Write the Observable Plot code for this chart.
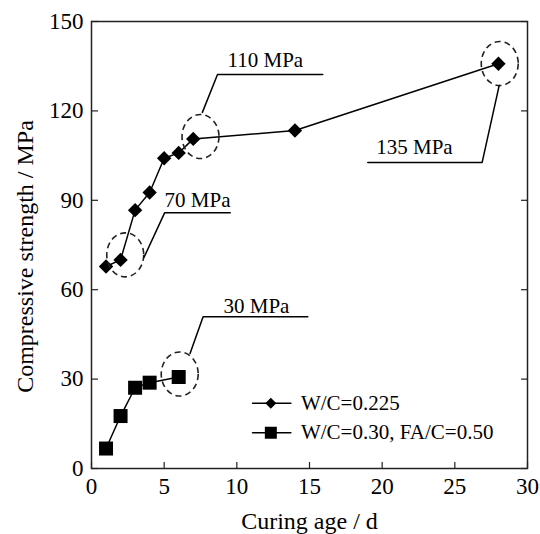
<!DOCTYPE html>
<html><head><meta charset="utf-8">
<script src="https://cdn.jsdelivr.net/npm/d3@7"></script>
<script src="https://cdn.jsdelivr.net/npm/@observablehq/plot@0.6"></script>
<style>
body{margin:0;background:#fff}
#chart svg{display:block;font-family:"Liberation Serif",serif !important}
#chart svg text{font-family:"Liberation Serif",serif !important}
</style>
</head><body><div id="chart"></div>
<script>
// ---- data ----
const days225 = [1, 2, 3, 4, 5, 6, 7, 14, 28];
const strength225 = [67.8, 70.0, 86.7, 92.6, 104.1, 105.9, 110.6, 113.4, 135.8];
const days30 = [1, 2, 3, 4, 6];
const strength30 = [6.7, 17.6, 27.1, 28.8, 30.7];
const seriesNames = ["W/C=0.225", "W/C=0.30, FA/C=0.50"];
const xTicks = [0, 5, 10, 15, 20, 25, 30];
const yTicks = [0, 30, 60, 90, 120, 150];
const xTitle = "Curing age / d";
const yTitle = "Compressive strength / MPa";
// annotations (data units)
const noteLabels = ["70 MPa", "110 MPa", "135 MPa", "30 MPa"];
const noteCircles = [[2.32, 71.7], [7.5, 111.4], [28.09, 135.9], [6.07, 31.7]];
const noteLeaders = [
  [[3.61, 70.8], [5.03, 85.8], [9.55, 85.8]],
  [[7.63, 119.5], [8.67, 132.2], [15.91, 132.2]],
  [[28.05, 128.5], [26.88, 102.7], [19.01, 102.7]],
  [[6.78, 38.6], [7.68, 50.9], [14.88, 50.9]]
];
const noteTextAt = [[5.03, 87.8], [9.36, 134.6], [19.59, 105.5], [9.08, 52.3]];
// legend placement (data units)
const legendLineX = [11.08, 13.72];
const legendSymX = 12.34;
const legendTextX = 14.41;
const legendRowY = [21.9, 12.0];

// ---- build ----
const W = 540, H = 534, mL = 91, mR = 13, mT = 21, mB = 66;
const innerW = W - mL - mR, innerH = H - mT - mB;

const rows225 = days225.map((d, i) => ({day: d, s: strength225[i]}));
const rows30 = days30.map((d, i) => ({day: d, s: strength30[i]}));

const diamond = {draw(ctx, size) { const r = Math.sqrt(size / Math.PI);
  ctx.moveTo(0, -r); ctx.lineTo(r, 0); ctx.lineTo(0, r); ctx.lineTo(-r, 0); ctx.closePath(); }};
const square = {draw(ctx, size) { const r = Math.sqrt(size / Math.PI);
  ctx.moveTo(-r, -r); ctx.lineTo(r, -r); ctx.lineTo(r, r); ctx.lineTo(-r, r); ctx.closePath(); }};
const ellipse = {draw(ctx, size) { const ry = Math.sqrt(size / Math.PI), rx = ry * 0.84, k = 0.5523;
  ctx.moveTo(rx, 0);
  ctx.bezierCurveTo(rx, k * ry, k * rx, ry, 0, ry);
  ctx.bezierCurveTo(-k * rx, ry, -rx, k * ry, -rx, 0);
  ctx.bezierCurveTo(-rx, -k * ry, -k * rx, -ry, 0, -ry);
  ctx.bezierCurveTo(k * rx, -ry, rx, -k * ry, rx, 0);
  ctx.closePath(); }};

const leaderRows = noteLeaders.flatMap((pts, id) => pts.map(([x, y]) => ({id, x, y})));
const circleRows = noteCircles.map(([x, y]) => ({x, y}));
const noteRows = noteTextAt.map(([x, y], i) => ({x, y, t: noteLabels[i]}));
const legendLines = legendRowY.flatMap((y, id) => legendLineX.map(x => ({id, x, y})));

const font = "Liberation Serif";

const chart = Plot.plot({
  width: W, height: H,
  marginLeft: mL, marginRight: mR, marginTop: mT, marginBottom: mB,
  style: {fontFamily: font, color: "black", background: "white"},
  x: {domain: [0, 30]},
  y: {domain: [0, 150]},
  marks: [
    Plot.axisX({ticks: xTicks, tickSize: 0, tickPadding: 9, fontSize: 23, fontFamily: font, label: null, fill: "black"}),
    Plot.axisY({ticks: yTicks, tickSize: 0, tickPadding: 8, fontSize: 23, fontFamily: font, label: null, fill: "black"}),
    Plot.tickX(xTicks, {x: d => d, insetTop: innerH - 6, stroke: "#222", strokeWidth: 1.2}),
    Plot.tickY(yTicks, {y: d => d, insetRight: innerW - 7, stroke: "#222", strokeWidth: 1.2}),
    Plot.tickY(yTicks, {y: d => d, insetLeft: innerW - 6, stroke: "#222", strokeWidth: 1.2}),
    Plot.frame({stroke: "#222", strokeWidth: 1.5}),
    // data
    Plot.line(rows225, {x: "day", y: "s", stroke: "black", strokeWidth: 1.5}),
    Plot.line(rows30, {x: "day", y: "s", stroke: "black", strokeWidth: 1.5}),
    Plot.dot(rows225, {x: "day", y: "s", symbol: diamond, r: 7.2, fill: "black", stroke: "none"}),
    Plot.dot(rows30, {x: "day", y: "s", symbol: square, r: 7, fill: "black", stroke: "none"}),
    // annotations
    Plot.dot(circleRows, {x: "x", y: "y", symbol: ellipse, r: 22, fill: "none", stroke: "#222", strokeWidth: 1.6, strokeDasharray: "6,4"}),
    Plot.line(leaderRows, {x: "x", y: "y", z: "id", stroke: "black", strokeWidth: 1.5, curve: "linear"}),
    Plot.text(noteRows, {x: "x", y: "y", text: "t", textAnchor: "start", lineAnchor: "bottom", fontSize: 21, fontFamily: font, fill: "black"}),
    // legend
    Plot.line(legendLines, {x: "x", y: "y", z: "id", stroke: "black", strokeWidth: 1.5}),
    Plot.dot([0], {x: () => legendSymX, y: () => legendRowY[0], symbol: diamond, r: 5.5, fill: "black", stroke: "none"}),
    Plot.dot([0], {x: () => legendSymX, y: () => legendRowY[1], symbol: square, r: 6, fill: "black", stroke: "none"}),
    Plot.text(seriesNames, {x: () => legendTextX, y: (d, i) => legendRowY[i], text: d => d, textAnchor: "start", lineAnchor: "middle", fontSize: 21, fontFamily: font, fill: "black"}),
    // axis titles
    Plot.text([xTitle], {frameAnchor: "bottom", text: d => d, textAnchor: "middle", lineAnchor: "bottom", dy: 60, fontSize: 24, fontFamily: font, fill: "black"}),
    Plot.text([yTitle], {frameAnchor: "left", text: d => d, rotate: -90, textAnchor: "middle", lineAnchor: "middle", dx: -66, dy: 11.5, fontSize: 24, fontFamily: font, fill: "black"})
  ]
});
document.getElementById("chart").appendChild(chart);
</script>
</body></html>
